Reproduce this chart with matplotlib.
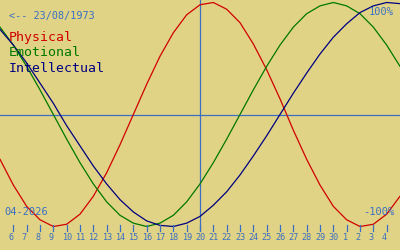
import matplotlib
matplotlib.use("Agg")
import matplotlib.pyplot as plt
import matplotlib.transforms as mtransforms

# days shown (April 2026, running into May), today = 20
days = list(range(5, 36))
tick_days = list(range(6, 35))
tick_labels = [str(d) for d in range(6, 31)] + ["1", "2", "3", "4"]
today = 20

physical = [-0.40, -0.63, -0.82, -0.94, -1.00, -0.98, -0.89, -0.73, -0.52, -0.27,
            0.00, 0.27, 0.52, 0.73, 0.89, 0.98, 1.00, 0.94, 0.82, 0.63,
            0.40, 0.14, -0.14, -0.40, -0.63, -0.82, -0.94, -1.00, -0.98, -0.89,
            -0.73]
emotional = [0.78, 0.62, 0.43, 0.22, 0.00, -0.22, -0.43, -0.62, -0.78, -0.90,
             -0.97, -1.00, -0.97, -0.90, -0.78, -0.62, -0.43, -0.22, 0.00, 0.22,
             0.43, 0.62, 0.78, 0.90, 0.97, 1.00, 0.97, 0.90, 0.78, 0.62,
             0.43]
intellectual = [0.76, 0.62, 0.46, 0.28, 0.10, -0.10, -0.28, -0.46, -0.62, -0.76,
                -0.87, -0.95, -0.99, -1.00, -0.97, -0.91, -0.81, -0.69, -0.54, -0.37,
                -0.19, 0.00, 0.19, 0.37, 0.54, 0.69, 0.81, 0.91, 0.97, 1.00,
                0.99]

BG = "#e1d385"
BLUE = "#3a6fc4"
W, H = 400, 250
MID, AMP = 114.5, 112.0

fig = plt.figure(figsize=(4, 2.5), dpi=100)
fig.patch.set_facecolor(BG)
ax = fig.add_axes([0, 0, 1, 1])
ax.set_facecolor(BG)
ax.set_xlim(5, 35)
ax.set_ylim(-(H - MID) / AMP, MID / AMP)
ax.axis("off")

ax.axhline(0, color=BLUE, lw=0.9)
ax.plot([today, today], [-(230 - MID) / AMP, MID / AMP], color=BLUE, lw=0.9)

ax.plot(days, physical, color="#d00000", lw=0.9)
ax.plot(days, emotional, color="#007800", lw=0.9)
ax.plot(days, intellectual, color="#000080", lw=0.9)

mono = "DejaVu Sans Mono"


def px(x, y):
    return x / W, 1 - y / H


# bottom ticks and labels
blend = mtransforms.blended_transform_factory(ax.transData, ax.transAxes)
off = mtransforms.offset_copy(blend, fig=fig, x=-5, y=0, units="dots")
for d, lab in zip(tick_days, tick_labels):
    ax.plot([d, d], [1 - 225 / H, 1 - 231 / H], color=BLUE, lw=0.9, transform=blend)
    ax.text(d, 1 - 238 / H, lab, color=BLUE, fontsize=6.1, family=mono,
            ha="left", va="center", transform=off)

ax.text(*px(9, 16), "<-- 23/08/1973", color=BLUE, fontsize=7.3, family=mono,
        va="center", transform=ax.transAxes)
ax.text(*px(9, 38), "Physical", color="#d00000", fontsize=9.5, family=mono,
        va="center", transform=ax.transAxes)
ax.text(*px(9, 53), "Emotional", color="#007800", fontsize=9.5, family=mono,
        va="center", transform=ax.transAxes)
ax.text(*px(9, 68), "Intellectual", color="#000080", fontsize=9.5, family=mono,
        va="center", transform=ax.transAxes)
ax.text(*px(394, 12), "100%", color=BLUE, fontsize=7.5, family=mono,
        ha="right", va="center", transform=ax.transAxes)
ax.text(*px(394, 212), "-100%", color=BLUE, fontsize=7.5, family=mono,
        ha="right", va="center", transform=ax.transAxes)
ax.text(*px(4, 212), "04-2026", color=BLUE, fontsize=7.5, family=mono,
        ha="left", va="center", transform=ax.transAxes)

fig.savefig("out.png", dpi=100, facecolor=BG)
